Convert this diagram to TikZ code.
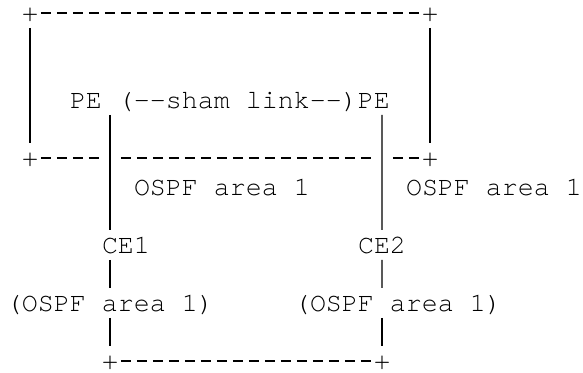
\documentclass[tikz,border=0pt]{standalone}
\usepackage{fontspec}
\setmonofont{TeX Gyre Cursor}
\usetikzlibrary{positioning,calc}

\begin{document}
\begin{tikzpicture}[x=8pt, y=14.5pt,
    every node/.append style={font=\ttfamily\fontsize{13.33}{14.5}\selectfont,
      inner sep=0pt, outer sep=0pt, text height=9pt, text depth=0pt},
    lbl/.style={anchor=west},
    vbar/.style={line width=0.6pt, shorten <=7.5pt, shorten >=7.5pt},
    hdash/.style={line width=0.6pt, dash pattern=on 5.2pt off 2.8pt, dash phase=6.6pt}]
  \useasboundingbox (-7pt,6.5pt) rectangle (284.5pt,-180pt);
  % corners
  \node (tl) at (1,0) {+};
  \node (tr) at (26,0) {+};
  \node (ml) at (1,-5) {+};
  \node (mr) at (26,-5) {+};
  \node (bl) at (6,-12) {+};
  \node (br) at (23,-12) {+};
  % routers and areas
  \node (pe1) [lbl] at (3.5,-3) {PE};
  \node (sham) [right=8pt of pe1] {(--sham link--)};
  \node (pe2) [right=0pt of sham] {PE};
  \node (area1) [lbl] at (7.5,-6) {OSPF area 1};
  \node (area2) [lbl] at (24.5,-6) {OSPF area 1};
  \node (ce1) [lbl] at (5.5,-8) {CE1};
  \node (ce2) [lbl] at (21.5,-8) {CE2};
  \node (ospf1) [lbl] at (-0.5,-10) {(OSPF area 1)};
  \node (ospf2) [lbl] at (17.5,-10) {(OSPF area 1)};
  \coordinate (s1) at (6,-3);
  \coordinate (s2) at (23,-3);
  % backbone box
  \draw[hdash] (tl.east) -- (tr.west);
  \draw[vbar] (tl.center) -- (ml.center);
  \draw[vbar] (tr.center) -- (mr.center);
  \draw[hdash] (ml.east) -- ($(s1|-ml)+(-.5,0)$);
  \draw[hdash] ($(s1|-ml)+(.5,0)$) -- ($(s2|-mr)+(-.5,0)$);
  \draw[hdash] ($(s2|-mr)+(.5,0)$) -- (mr.west);
  % links to the sites
  \draw[vbar] (s1) -- (s1|-ce1);
  \draw[vbar] (s1|-ce1) -- (s1|-ospf1);
  \draw[vbar] (s1|-ospf1) -- (bl.center);
  \draw[vbar] (s2) -- (ce2.center);
  \draw[vbar] (ce2.center) -- (s2|-ospf2);
  \draw[vbar] (s2|-ospf2) -- (br.center);
  \draw[hdash] (bl.east) -- (br.west);
\end{tikzpicture}
\end{document}
